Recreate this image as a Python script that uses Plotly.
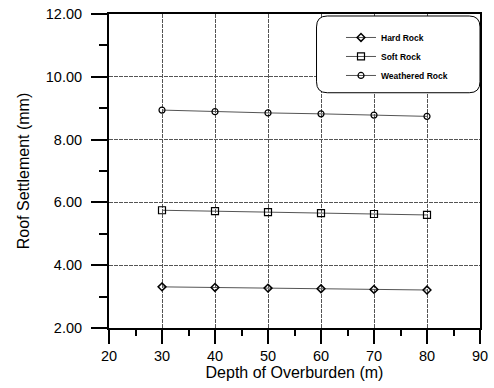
import plotly.graph_objects as go

depth = [30, 40, 50, 60, 70, 80]
hard_rock = [3.31, 3.29, 3.27, 3.25, 3.23, 3.21]
soft_rock = [5.75, 5.72, 5.69, 5.66, 5.63, 5.60]
weathered_rock = [8.94, 8.89, 8.85, 8.82, 8.78, 8.74]

y_ticks = [2, 4, 6, 8, 10, 12]
y_tick_text = ["2.00", "4.00", "6.00", "8.00", "10.00", "12.00"]
x_ticks = [20, 30, 40, 50, 60, 70, 80, 90]

W, H = 494, 388
L, R, T, B = 109, 6, 13, 60
pw, ph = W - L - R, H - T - B

fig = go.Figure()
line_style = dict(color="#555555", width=1)
fig.add_trace(go.Scatter(x=depth, y=hard_rock, mode="lines+markers", name="<b>Hard Rock</b>",
                         line=line_style,
                         marker=dict(symbol="diamond-open", size=6, color="black", line=dict(width=1.5))))
fig.add_trace(go.Scatter(x=depth, y=soft_rock, mode="lines+markers", name="<b>Soft Rock</b>",
                         line=line_style,
                         marker=dict(symbol="square-open", size=7, color="black", line=dict(width=1.2))))
fig.add_trace(go.Scatter(x=depth, y=weathered_rock, mode="lines+markers", name="<b>Weathered Rock</b>",
                         line=line_style,
                         marker=dict(symbol="circle-open", size=6, color="black", line=dict(width=1.2))))

# rounded legend box (pixel-based, converted to paper units)
x0p, x1p, y0p, y1p, r = 321, 488, 15, 92, 11
def px(x):
    return (x - L) / pw
def py(y):
    return 1 - (y - T) / ph
rx, ry = r / pw, r / ph
path = (f"M {px(x0p)+rx},{py(y0p)} L {px(x1p)-rx},{py(y0p)} Q {px(x1p)},{py(y0p)} {px(x1p)},{py(y0p)-ry} "
        f"L {px(x1p)},{py(y1p)+ry} Q {px(x1p)},{py(y1p)} {px(x1p)-rx},{py(y1p)} "
        f"L {px(x0p)+rx},{py(y1p)} Q {px(x0p)},{py(y1p)} {px(x0p)},{py(y1p)+ry} "
        f"L {px(x0p)},{py(y0p)-ry} Q {px(x0p)},{py(y0p)} {px(x0p)+rx},{py(y0p)} Z")
fig.add_shape(type="path", xref="paper", yref="paper", path=path,
              line=dict(color="black", width=1), fillcolor="white", layer="above")

tick_font = dict(family="Liberation Sans, Arial, sans-serif", size=14.5, color="black")
title_font = dict(family="Liberation Sans, Arial, sans-serif", size=16, color="black")

fig.update_layout(
    width=W, height=H,
    margin=dict(l=L, r=R, t=T, b=B),
    paper_bgcolor="white", plot_bgcolor="white",
    font=tick_font,
    showlegend=True,
    legend=dict(x=px(346), y=py(22), xanchor="left", yanchor="top",
                bgcolor="rgba(0,0,0,0)", borderwidth=0,
                font=dict(family="Liberation Sans, Arial, sans-serif", size=8.5, color="black"),
                tracegroupgap=0),
    xaxis=dict(range=[20, 90], tickvals=x_ticks, ticks="outside", ticklen=14, tickwidth=1.5,
               tickcolor="black", showline=True, linecolor="black", linewidth=2, mirror=True,
               showgrid=True, gridcolor="#555555", gridwidth=1, griddash="4px,1px",
               zeroline=False, tickfont=tick_font, ticklabeloverflow="allow",
               minor=dict(dtick=5, ticks="outside", ticklen=6, tickcolor="black", tickwidth=1.5, showgrid=False),
               title=dict(text="Depth of Overburden (m)", font=title_font, standoff=2)),
    yaxis=dict(range=[2, 12], tickvals=y_ticks, ticktext=y_tick_text, ticks="outside", ticklen=16,
               tickwidth=1.5, tickcolor="black", showline=True, linecolor="black", linewidth=2, mirror=True,
               showgrid=True, gridcolor="#555555", gridwidth=1, griddash="4px,1px",
               zeroline=False, tickfont=tick_font, ticklabelstandoff=6,
               minor=dict(dtick=1, ticks="outside", ticklen=8, tickcolor="black", tickwidth=1.5, showgrid=False),
               title=dict(text="Roof Settlement (mm)", font=title_font, standoff=12)),
)

fig.write_html("out.html")
